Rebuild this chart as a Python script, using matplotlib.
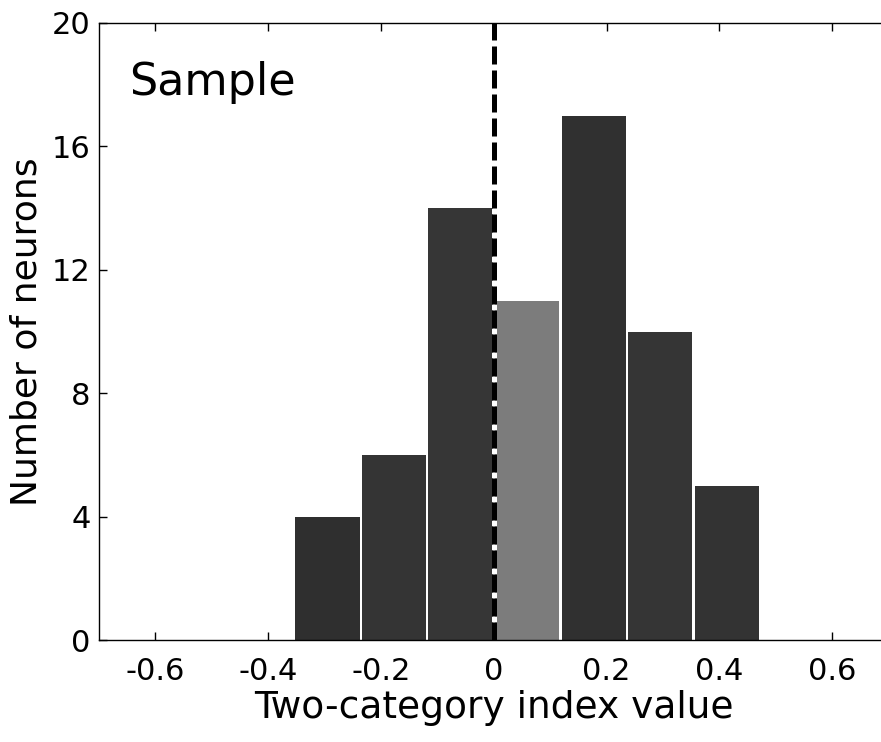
import matplotlib
matplotlib.use("Agg")
import matplotlib.pyplot as plt

# ---- data ----
bin_centers = [-0.295, -0.177, -0.059, 0.059, 0.177, 0.295, 0.413]
counts = [4, 6, 14, 11, 17, 10, 5]
bar_colors = ['#2f2f2f', '#343434', '#363636', '#7c7c7c', '#303030', '#353535', '#333333']
xticks = [-0.6, -0.4, -0.2, 0, 0.2, 0.4, 0.6]
xticklabels = ['-0.6', '-0.4', '-0.2', '0', '0.2', '0.4', '0.6']
yticks = [0, 4, 8, 12, 16, 20]
bin_width = 0.118

plt.rcParams['font.family'] = ['DejaVu Sans']

fig = plt.figure(figsize=(8.81, 7.42), dpi=100)
ax = fig.add_axes([99/881, 1-640/742, (888.6-99)/881, (640-23)/742])

ax.bar(bin_centers, counts, width=bin_width*0.965, color=bar_colors,
       edgecolor='none', zorder=2)
ax.axvline(0, color='black', lw=3.6, linestyle=(0, (3.6, 1.2)),
           gapcolor='white', zorder=3)

ax.set_xlim(-0.7, 0.7)
ax.set_ylim(0, 20)
ax.set_xticks(xticks)
ax.set_xticklabels(xticklabels)
ax.set_yticks(yticks)
ax.tick_params(direction='in', length=6, width=1, top=True, right=True,
               labelsize=22)
ax.tick_params(axis='x', pad=12)
ax.tick_params(axis='y', pad=6)
for s in ax.spines.values():
    s.set_linewidth(1.0)

ax.set_xlabel('Two-category index value', fontsize=27, labelpad=3)
ax.set_ylabel('Number of neurons', fontsize=26, labelpad=6)

ax.text(-0.647, 17.67, 'Sample', fontsize=32, ha='left', va='baseline')

fig.savefig('out.png', dpi=100)
